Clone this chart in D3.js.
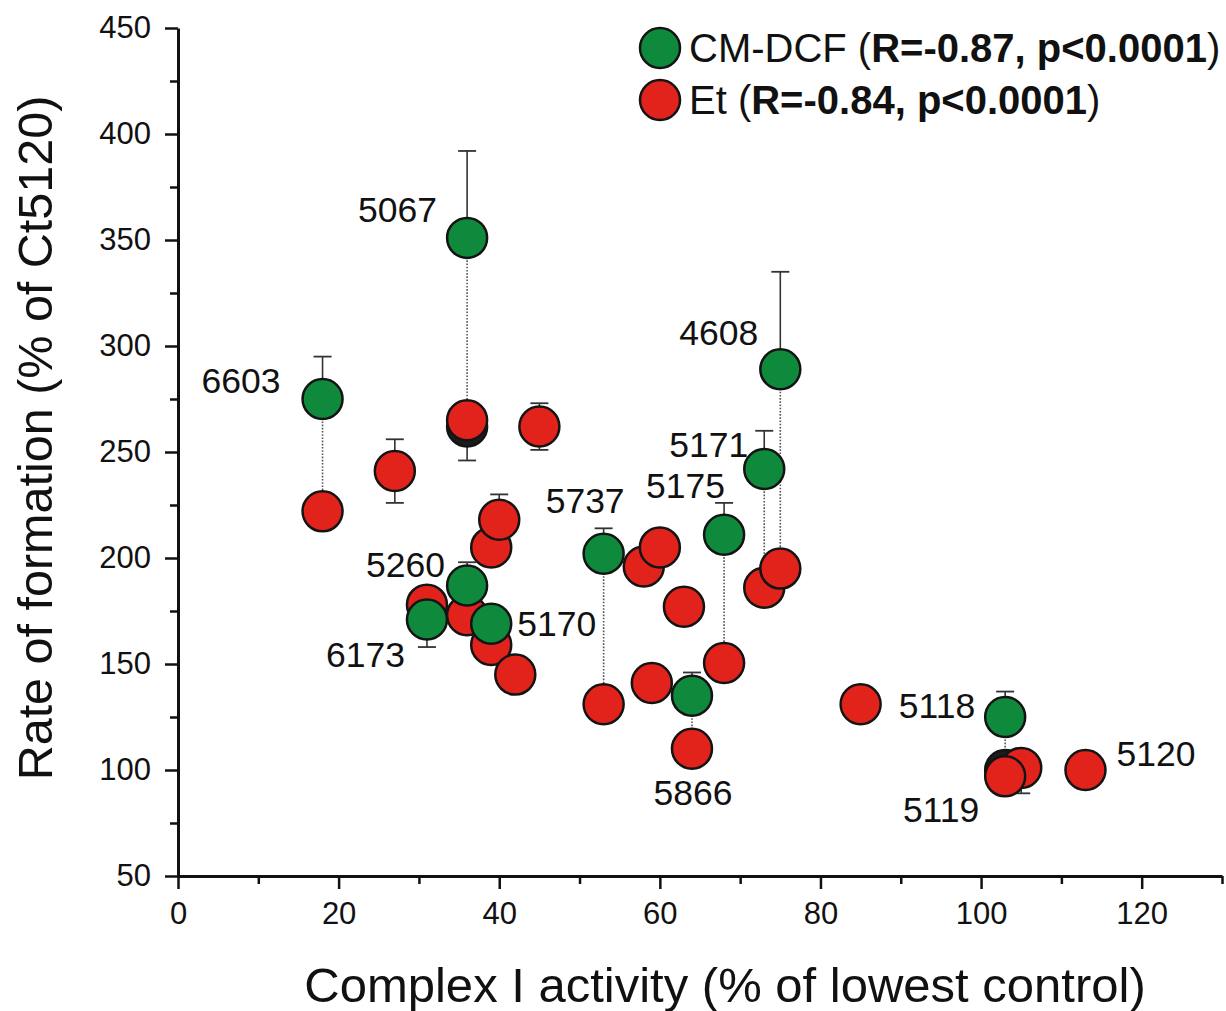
<!DOCTYPE html>
<html><head><meta charset="utf-8">
<script src="https://cdn.jsdelivr.net/npm/d3@7"></script>
<style>body{margin:0;background:#fff}svg{display:block}</style>
</head><body>
<svg id="chart" width="1226" height="1011"></svg>
<script>
// ---- data ----
const xMajorTicks = [0, 20, 40, 60, 80, 100, 120];
const xMinorTicks = [10, 30, 50, 70, 90, 110, 130];
const yMajorTicks = [50, 100, 150, 200, 250, 300, 350, 400, 450];
const yMinorTicks = [75, 125, 175, 225, 275, 325, 375, 425];

// CM-DCF (green)
const greenStrain = ["6603", "5067", "4608", "5171", "5175", "5737", "5260", "6173", "5170", "5866", "5118"];
const greenX      = [18, 36, 75, 73, 68, 53, 36, 31, 39, 64, 103];
const greenY      = [275, 351, 289, 242, 211, 202, 187, 171, 169, 135, 125];
const greenErrHi  = [295, 392, 335, 260, 226, 214, 198, null, null, 146, 137];
const greenErrLo  = [null, null, null, null, null, null, null, 158, null, null, null];

// Et (red)
const redStrain = ["6603", "", "5067", "", "", "", "6173", "5260", "5170", "", "5737", "", "", "", "", "5866", "5175", "5171", "4608", "", "5119", "5118", "5120"];
const redX      = [18, 27, 36, 45, 39, 40, 31, 36, 39, 42, 53, 58, 60, 63, 59, 64, 68, 73, 75, 85, 105, 103, 113];
const redY      = [222, 241, 265, 262, 205, 218, 178, 173, 159, 145, 131, 196, 205, 177, 141, 110, 150.5, 186, 195, 131, 101, 97, 100];
const redErrHi  = [null, 256, null, 273, null, 230, null, null, null, null, null, null, null, null, null, null, null, null, null, null, null, null, null];
const redErrLo  = [null, 226, 246, 251, null, null, null, null, null, null, null, null, null, null, null, null, null, null, null, null, 89, null, null];

// dark points partly hidden behind red ones
const darkX = [36, 103];
const darkY = [262, 100];

const legendNames = ["CM-DCF", "Et"];
const legendStats = ["R=-0.87, p<0.0001", "R=-0.84, p<0.0001"];

// ---- style ----
const GREEN = "#0f8a3d", RED = "#e2231b", DARK = "#1c1c1c", EDGE = "#141414";
const FONT = "'Liberation Sans', Arial, Helvetica, sans-serif";
const R = 20;
// label placement (pixel offset from the point, anchor)
const labelStyle = {
  "6603": {src: "g", dx: -42, dy: -6, a: "end"},
  "5067": {src: "g", dx: -30, dy: -16, a: "end"},
  "4608": {src: "g", dx: -22, dy: -24, a: "end"},
  "5171": {src: "g", dx: -16, dy: -12, a: "end"},
  "5175": {src: "g", dx: 1, dy: -37, a: "end"},
  "5737": {src: "g", dx: 21, dy: -41, a: "end"},
  "5260": {src: "g", dx: -22, dy: -9, a: "end"},
  "6173": {src: "g", dx: -22, dy: 48, a: "end"},
  "5170": {src: "g", dx: 26, dy: 12, a: "start"},
  "5866": {src: "r", dx: 1, dy: 56, a: "middle"},
  "5118": {src: "g", dx: -30, dy: 1, a: "end"},
  "5120": {src: "r", dx: 31, dy: -4, a: "start"},
  "5119": {src: "r", dx: -42, dy: 54, a: "end"}
};

const svg = d3.select("#chart");
svg.append("rect").attr("width", 1226).attr("height", 1011).attr("fill", "#fff");

const x = d3.scaleLinear().domain([0, 130]).range([178, 1222]);
const y = d3.scaleLinear().domain([50, 450]).range([876, 28]);

const green = greenStrain.map((s, i) => ({s, x: greenX[i], y: greenY[i], hi: greenErrHi[i], lo: greenErrLo[i]}));
const red = redStrain.map((s, i) => ({s, x: redX[i], y: redY[i], hi: redErrHi[i], lo: redErrLo[i]}));
const dark = darkX.map((v, i) => ({x: v, y: darkY[i]}));

// ---- axes ----
function styleAxis(g) {
  g.select(".domain").attr("stroke", "#111").attr("stroke-width", 3);
  g.selectAll(".tick line").attr("stroke", "#111").attr("stroke-width", 2.5);
  g.selectAll(".tick text").attr("font-family", FONT).attr("font-size", 31).attr("fill", "#111");
}
const gxMinor = svg.append("g").attr("transform", "translate(0,876)")
  .call(d3.axisBottom(x).tickValues(xMinorTicks).tickSize(8).tickFormat(""));
gxMinor.select(".domain").remove();
gxMinor.selectAll(".tick line").attr("stroke", "#111").attr("stroke-width", 2.5);
const gx = svg.append("g").attr("transform", "translate(0,876)")
  .call(d3.axisBottom(x).tickValues(xMajorTicks).tickSize(13).tickPadding(13).tickSizeOuter(0).tickFormat(d3.format("d")));
styleAxis(gx);

const gyMinor = svg.append("g").attr("transform", "translate(178,0)")
  .call(d3.axisLeft(y).tickValues(yMinorTicks).tickSize(8).tickFormat(""));
gyMinor.select(".domain").remove();
gyMinor.selectAll(".tick line").attr("stroke", "#111").attr("stroke-width", 2.5);
const gy = svg.append("g").attr("transform", "translate(178,0)")
  .call(d3.axisLeft(y).tickValues(yMajorTicks).tickSize(13).tickPadding(14).tickSizeOuter(0).tickFormat(d3.format("d")));
styleAxis(gy);

// axis titles
svg.append("text").attr("x", 725).attr("y", 1002).attr("text-anchor", "middle")
  .attr("font-family", FONT).attr("font-size", 49).attr("fill", "#111")
  .text("Complex I activity (% of lowest control)");
svg.append("text").attr("transform", "translate(52,438) rotate(-90)").attr("text-anchor", "middle")
  .attr("font-family", FONT).attr("font-size", 48.5).attr("fill", "#111")
  .text("Rate of formation (% of Ct5120)");

// ---- connectors ----
const plot = svg.append("g");
green.forEach(g => {
  const r = red.find(d => d.s === g.s && d.s !== "");
  if (r && ["6603","5067","4608","5171","5175","5737","5866","5118"].includes(g.s)) {
    plot.append("line").attr("x1", x(g.x)).attr("x2", x(r.x)).attr("y1", y(g.y)).attr("y2", y(r.y))
      .attr("stroke", "#555").attr("stroke-width", 1.6).attr("stroke-dasharray", "1.6,1.6");
  }
});

// ---- error bars ----
function errBars(data) {
  data.forEach(d => {
    [d.hi, d.lo].forEach(v => {
      if (v == null) return;
      plot.append("line").attr("x1", x(d.x)).attr("x2", x(d.x)).attr("y1", y(d.y)).attr("y2", y(v))
        .attr("stroke", "#333").attr("stroke-width", 1.6);
      plot.append("line").attr("x1", x(d.x) - 9).attr("x2", x(d.x) + 9).attr("y1", y(v)).attr("y2", y(v))
        .attr("stroke", "#333").attr("stroke-width", 1.8);
    });
  });
}
errBars(green);
errBars(red);

// ---- points ----
plot.selectAll("circle.dark").data(dark).join("circle").attr("class", "dark")
  .attr("cx", d => x(d.x)).attr("cy", d => y(d.y)).attr("r", R)
  .attr("fill", DARK).attr("stroke", EDGE).attr("stroke-width", 2.5);
plot.selectAll("circle.red").data(red).join("circle").attr("class", "red")
  .attr("cx", d => x(d.x)).attr("cy", d => y(d.y)).attr("r", R)
  .attr("fill", RED).attr("stroke", EDGE).attr("stroke-width", 2.5);
plot.selectAll("circle.green").data(green).join("circle").attr("class", "green")
  .attr("cx", d => x(d.x)).attr("cy", d => y(d.y)).attr("r", R)
  .attr("fill", GREEN).attr("stroke", EDGE).attr("stroke-width", 2.5);

// ---- strain labels ----
Object.keys(labelStyle).forEach(s => {
  const st = labelStyle[s];
  const p = (st.src === "g" ? green : red).find(d => d.s === s);
  if (!p) return;
  svg.append("text").attr("x", x(p.x) + st.dx).attr("y", y(p.y) + st.dy)
    .attr("text-anchor", st.a).attr("font-family", FONT).attr("font-size", 35.5).attr("fill", "#111")
    .text(s);
});

// ---- legend ----
const lg = svg.append("g");
[GREEN, RED].forEach((c, i) => {
  const cy = 48 + i * 52;
  lg.append("circle").attr("cx", 660).attr("cy", cy).attr("r", R).attr("fill", c)
    .attr("stroke", EDGE).attr("stroke-width", 2.5);
  const t = lg.append("text").attr("x", 689).attr("y", cy + 14)
    .attr("font-family", FONT).attr("font-size", 40).attr("fill", "#111");
  t.append("tspan").text(legendNames[i] + " (");
  t.append("tspan").attr("font-weight", "bold").text(legendStats[i]);
  t.append("tspan").text(")");
});
</script>
</body></html>
